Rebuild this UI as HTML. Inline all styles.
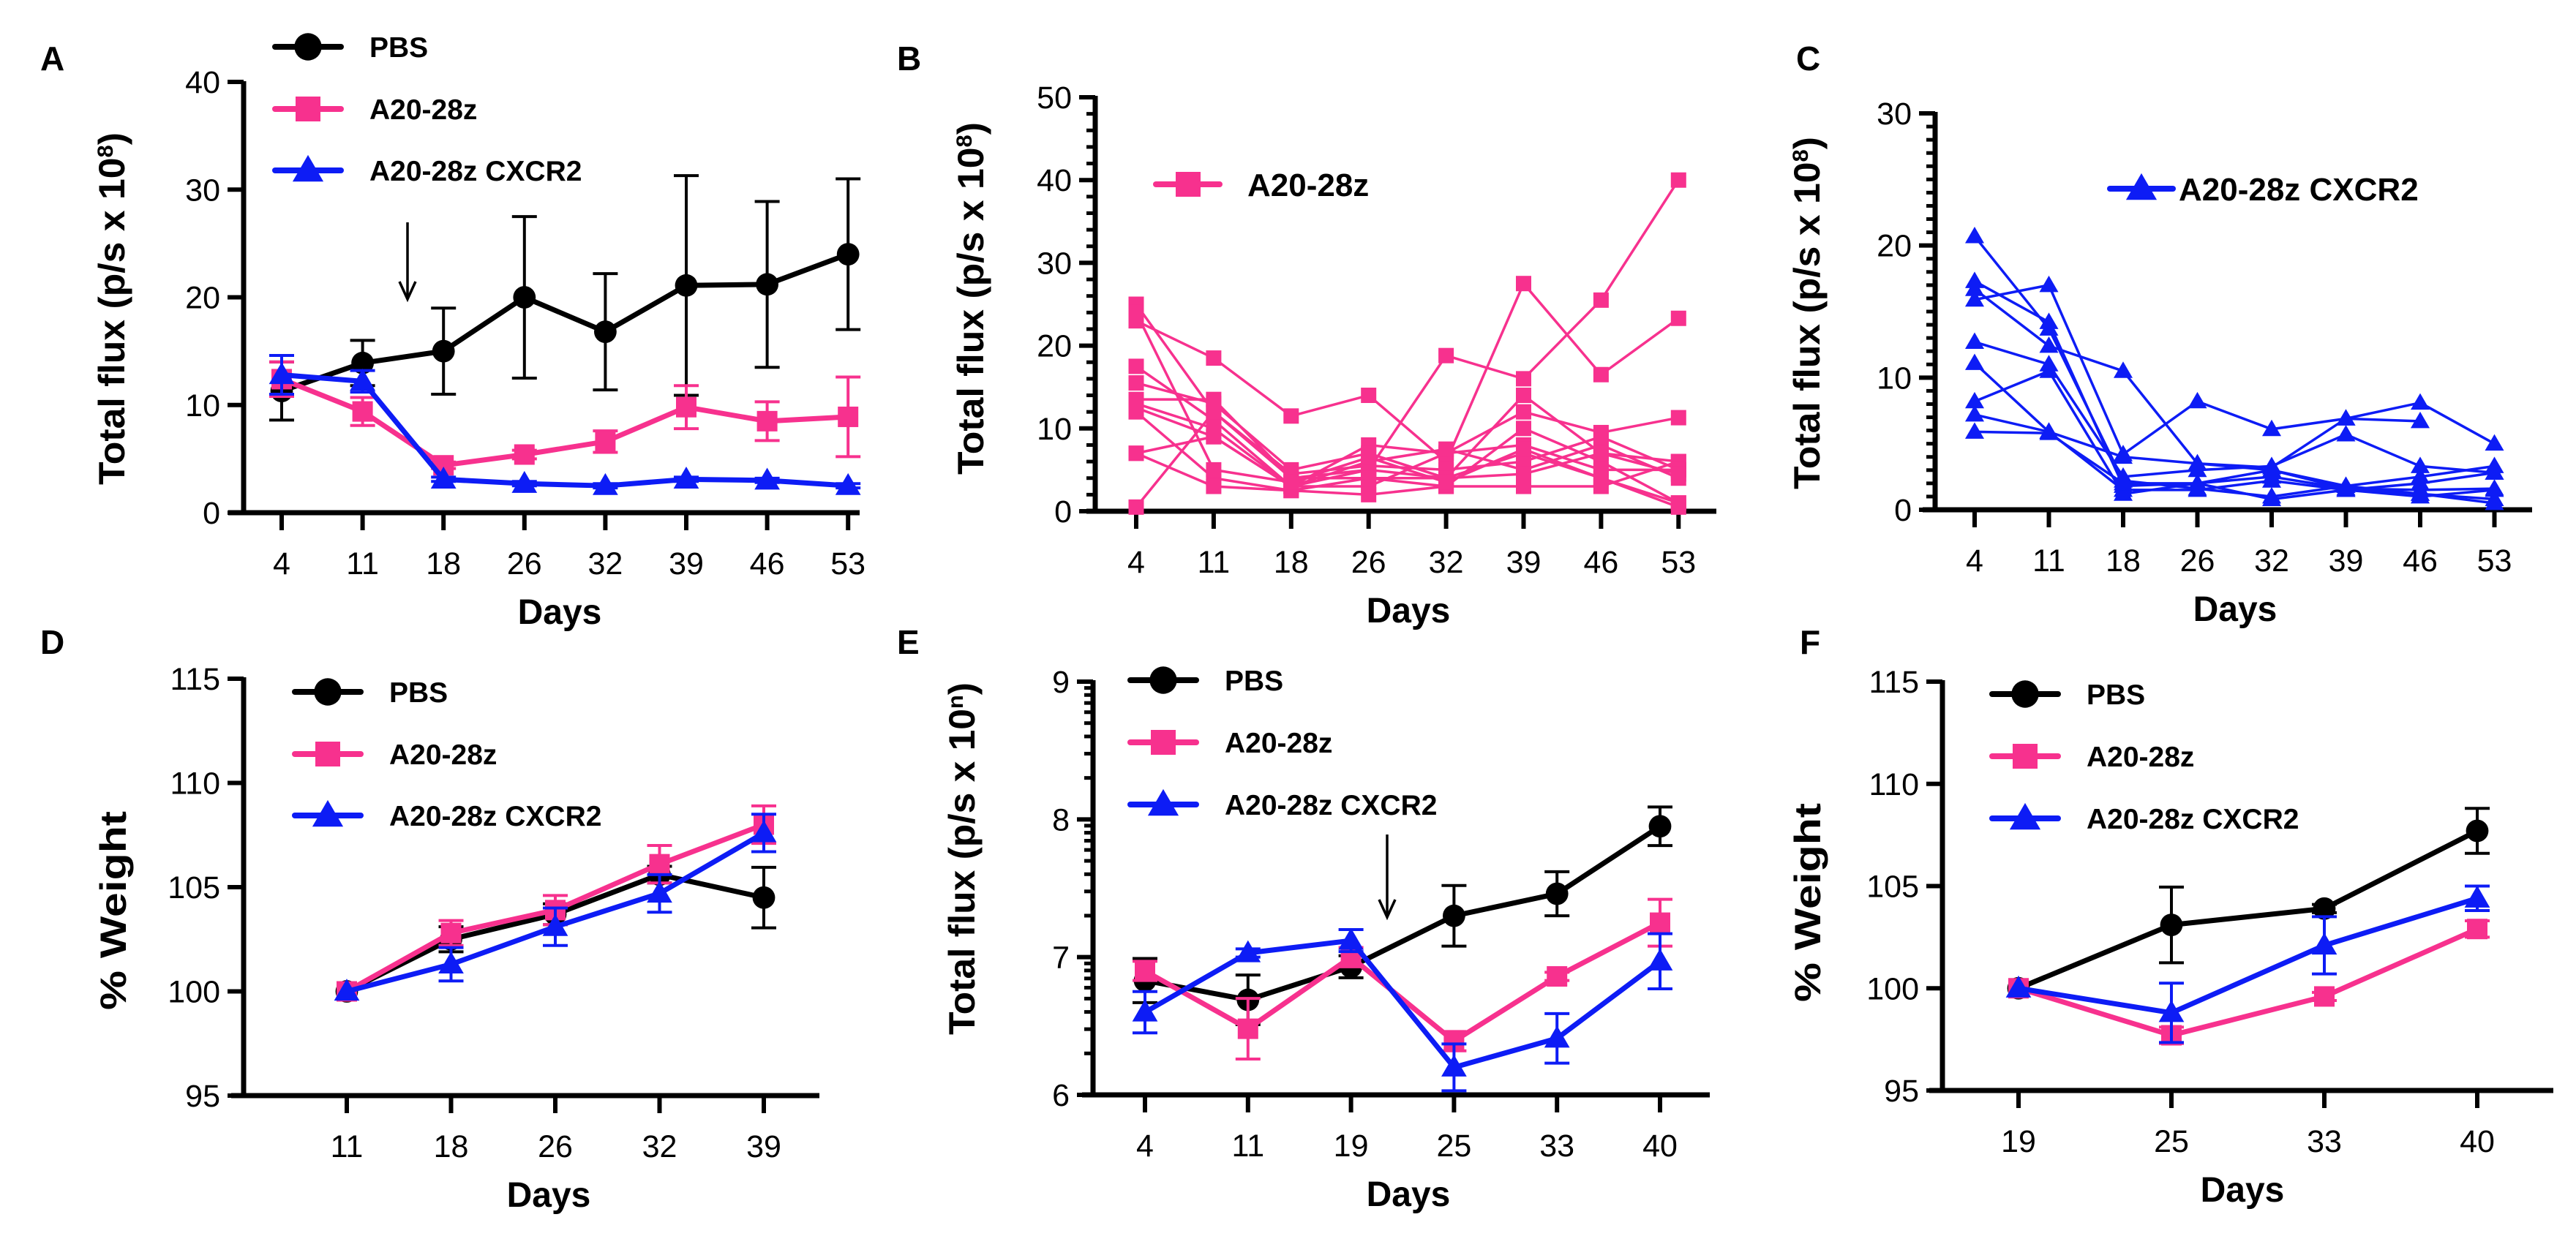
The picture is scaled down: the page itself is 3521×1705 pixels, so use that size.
<!DOCTYPE html>
<html><head><meta charset="utf-8">
<style>
html,body{margin:0;padding:0;background:#fff;}
svg{display:block;}
text{font-family:"Liberation Sans",sans-serif;}
</style></head>
<body>
<svg id="fig" xmlns="http://www.w3.org/2000/svg" width="3521" height="1705" viewBox="0 0 3521 1705"></svg>
<script>
// ---------- DATA ----------
const daysA = [4, 11, 18, 26, 32, 39, 46, 53];
const aPBS = [11.3, 13.9, 15.0, 20.0, 16.8, 21.1, 21.2, 24.0];
const aPBSerr = [2.7, 2.1, 4.0, 7.5, 5.4, 10.2, 7.7, 7.0];
const aCAR = [12.4, 9.4, 4.4, 5.4, 6.6, 9.8, 8.5, 8.9];
const aCARerr = [1.6, 1.3, 0.3, 0.4, 1.0, 2.0, 1.8, 3.7];
const aCX = [12.8, 12.2, 3.1, 2.7, 2.5, 3.1, 3.0, 2.5];
const aCXerr = [1.8, 1.0, 0.2, 0.2, 0.2, 0.2, 0.2, 0.2];

const bLines = [
  [23, 18.5, 11.5, 14, 6, 27.5, 16.5, 23.3],
  [25, 12, 4, 5, 18.8, 16, 25.5, 40],
  [17.5, 11, 3, 8, 7, 12, 9.5, 11.3],
  [15.5, 13, 5, 7, 4, 14, 7, 6],
  [13.5, 13.5, 4, 4, 3, 10, 6, 1],
  [13, 10, 3, 3, 7, 8, 5, 5],
  [12.5, 9, 3, 6, 7.5, 5, 8, 4],
  [12, 4, 2.5, 2, 3, 3, 3, 6],
  [7, 9, 3, 5, 4, 7, 4, 0.5],
  [0.5, 12, 4.5, 5.5, 5, 6, 9, 5],
  [7, 3, 2.5, 4, 4, 4.5, 7, 4.5],
  [24, 5, 3.5, 6.5, 3.5, 7.5, 4, 1]
];
const cLines = [
  [20.7, 13.7, 2.2, 1.6, 1.0, 1.8, 1.2, 0.5],
  [17.3, 14.2, 1.8, 2.0, 3.0, 1.8, 2.5, 3.3],
  [16.7, 12.4, 10.5, 3.5, 3.2, 6.9, 6.7, null],
  [15.9, 17.0, 4.2, 8.2, 6.1, 6.9, 8.1, 5.0],
  [12.7, 11.0, 2.5, 3.0, 3.3, 5.7, 3.3, 2.8],
  [11.1, 5.9, 1.5, 1.5, 2.2, 1.5, 1.0, 1.5],
  [8.2, 10.5, 1.2, 2.0, 0.8, 1.5, 2.0, 2.8],
  [7.2, 5.9, 4.0, 3.5, 3.0, 1.6, 1.5, 1.6],
  [5.9, 5.8, 2.0, 2.0, 2.5, 1.6, 1.2, 0.8]
];

const daysD = [11, 18, 26, 32, 39];
const dPBS = [100, 102.5, 103.7, 105.6, 104.5];
const dPBSerr = [0, 0.6, 0.5, 0.4, 1.45];
const dCAR = [100, 102.8, 103.9, 106.1, 108.0];
const dCARerr = [0, 0.6, 0.7, 0.9, 0.9];
const dCX = [100, 101.3, 103.1, 104.7, 107.6];
const dCXerr = [0, 0.8, 0.9, 0.9, 0.9];

const daysE = [4, 11, 19, 25, 33, 40];
const ePBS = [6.83, 6.69, 6.93, 7.30, 7.46, 7.95];
const ePBSerr = [0.16, 0.18, 0.08, 0.22, 0.16, 0.14];
const eCAR = [6.9, 6.48, 7.0, 6.39, 6.86, 7.25];
const eCARerr = [0.07, 0.22, 0.07, 0.07, 0.03, 0.17];
const eCX = [6.6, 7.03, 7.12, 6.2, 6.41, 6.97];
const eCXerr = [0.15, 0.03, 0.08, 0.17, 0.18, 0.2];

const daysF = [19, 25, 33, 40];
const fPBS = [100, 103.1, 103.9, 107.7];
const fPBSerr = [0, 1.85, 0.2, 1.1];
const fCAR = [100, 97.7, 99.6, 102.9];
const fCARerr = [0, 0.4, 0.2, 0.4];
const fCX = [100, 98.8, 102.1, 104.4];
const fCXerr = [0, 1.45, 1.4, 0.6];

const ticksFlux40 = [0, 10, 20, 30, 40];
const ticksFlux50 = [0, 10, 20, 30, 40, 50];
const ticksFlux30 = [0, 10, 20, 30];
const ticksWeight = [95, 100, 105, 110, 115];
const ticksLog = [6, 7, 8, 9];

// ---------- DRAWING ----------
const NS = "http://www.w3.org/2000/svg";
const svg = document.getElementById("fig");
const BLACK = "#000", PINK = "#f7318e", BLUE = "#0d1cf5";
function el(tag, attrs, parent) {
  const e = document.createElementNS(NS, tag);
  for (const k in attrs) e.setAttribute(k, attrs[k]);
  (parent || svg).appendChild(e);
  return e;
}
function txt(parent, x, y, s, size, weight, anchor, extra) {
  const t = el("text", Object.assign({x: x, y: y, "font-size": size, "font-weight": weight, "text-anchor": anchor, fill: "#000"}, extra || {}), parent);
  t.textContent = s;
  return t;
}
function marker(g, type, x, y, color, s) {
  let m;
  if (type === "circle") m = el("circle", {cx: x, cy: y, r: s * 0.55, fill: color}, g);
  else if (type === "square") m = el("rect", {x: x - s / 2, y: y - s / 2, width: s, height: s, fill: color}, g);
  else m = el("polygon", {points: (x) + "," + (y - s * 0.62) + " " + (x - s * 0.62) + "," + (y + s * 0.45) + " " + (x + s * 0.62) + "," + (y + s * 0.45), fill: color}, g);
  return m;
}

function panel(cfg) {
  const g = el("g", {});
  
  
  const xs = cfg.xs, ys = cfg.ys;
  const ax = el("g", {}, g);
  
  
  el("line", {x1: cfg.axX, y1: cfg.axTop, x2: cfg.axX, y2: cfg.axBot, stroke: "#000", "stroke-width": 7}, ax);
  el("line", {x1: cfg.xLineStart, y1: cfg.axBot, x2: cfg.xLineEnd, y2: cfg.axBot, stroke: "#000", "stroke-width": 7}, ax);
  cfg.yTicks.forEach(v => {
    const y = ys(v);
    el("line", {x1: cfg.axX - 22, y1: y, x2: cfg.axX, y2: y, stroke: "#000", "stroke-width": 6}, ax);
    const lab = txt(ax, cfg.axX - 32, y + 15, String(v), 43, "normal", "end");
    
    
  });
  (cfg.minor || []).forEach(v => {
    el("line", {x1: cfg.axX - 12, y1: ys(v), x2: cfg.axX, y2: ys(v), stroke: "#000", "stroke-width": 5}, ax);
  });
  cfg.days.forEach((d, i) => {
    const x = xs(i);
    el("line", {x1: x, y1: cfg.axBot, x2: x, y2: cfg.axBot + 24, stroke: "#000", "stroke-width": 6}, ax);
    const lab = txt(ax, x, cfg.axBot + 84, String(d), 43, "normal", "middle");
    
    
  });
  const xt = txt(g, cfg.daysX, cfg.axBot + 152, "Days", 48, "bold", "middle");
  
  
  const yt = el("text", {x: 0, y: 0, "font-size": 50, "font-weight": "bold", "text-anchor": "middle", fill: "#000", transform: "translate(" + cfg.ytX + "," + cfg.ytY + ") rotate(-90)", textLength: cfg.ytLen, lengthAdjust: "spacingAndGlyphs"}, g);
  
  
  if (cfg.ytSup) {
    yt.appendChild(document.createTextNode(cfg.ytText));
    const sp = el("tspan", {"font-size": 30, dy: -16}, yt); sp.textContent = cfg.ytSup;
    const sp2 = el("tspan", {dy: 16}, yt); sp2.textContent = ")";
  } else yt.textContent = cfg.ytText;
  const pl = txt(g, cfg.letterX, cfg.letterY, cfg.letter, 46, "bold", "start");
  
  
  return g;
}

function meanSeries(g, cfg, vals, errs, color, type, name) {
  const s = el("g", {}, g);
  
  
  vals.forEach((v, i) => {
    if (!errs[i]) return;
    const x = cfg.xs(i), y1 = cfg.ys(v + errs[i]), y2 = cfg.ys(v - errs[i]);
    el("line", {x1: x, y1: y1, x2: x, y2: y2, stroke: color, "stroke-width": 4}, s);
    el("line", {x1: x - 17, y1: y1, x2: x + 17, y2: y1, stroke: color, "stroke-width": 4}, s);
    el("line", {x1: x - 17, y1: y2, x2: x + 17, y2: y2, stroke: color, "stroke-width": 4}, s);
  });
  const pts = vals.map((v, i) => cfg.xs(i) + "," + cfg.ys(v)).join(" ");
  el("polyline", {points: pts, fill: "none", stroke: color, "stroke-width": 7, "stroke-linejoin": "round"}, s);
  vals.forEach((v, i) => {
    const m = marker(s, type, cfg.xs(i), cfg.ys(v), color, 28);
    
    
  });
}

function indivSeries(g, cfg, lines, color, type, name) {
  const s = el("g", {}, g);
  
  
  lines.forEach(L => {
    const pts = [];
    L.forEach((v, i) => { if (v !== null) pts.push(cfg.xs(i) + "," + cfg.ys(v)); });
    const pl = el("polyline", {points: pts.join(" "), fill: "none", stroke: color, "stroke-width": 3.5}, s);
    
    
  });
  lines.forEach(L => L.forEach((v, i) => {
    if (v === null) return;
    const m = marker(s, type, cfg.xs(i), cfg.ys(v), color, 21);
    
    
  }));
}

function legend(g, x, ys, labels, colors, types) {
  const lg = el("g", {}, g);
  
  
  labels.forEach((lab, i) => {
    const e = el("g", {}, lg);
    
    
    el("line", {x1: x - 45, y1: ys[i], x2: x + 45, y2: ys[i], stroke: colors[i], "stroke-width": 8, "stroke-linecap": "round"}, e);
    marker(e, types[i], x, ys[i], colors[i], 34);
    txt(e, x + 84, ys[i] + 14, lab, 39, "bold", "start");
  });
}

function arrow(g, x, y1, y2) {
  const a = el("g", {}, g);
  
  
  el("line", {x1: x, y1: y1, x2: x, y2: y2, stroke: "#000", "stroke-width": 3.5}, a);
  el("polyline", {points: (x - 11) + "," + (y2 - 24) + " " + x + "," + y2 + " " + (x + 11) + "," + (y2 - 24), fill: "none", stroke: "#000", "stroke-width": 3.5}, a);
}

function linX(x0, step) { return i => x0 + i * step; }
function linY(v0, y0, v1, y1) { return v => y0 + (v - v0) * (y1 - y0) / (v1 - v0); }
function range(a, b, s) { const r = []; for (let v = a; v <= b + 1e-9; v += s) r.push(+v.toFixed(4)); return r; }

const LEG = ["PBS", "A20-28z", "A20-28z CXCR2"], COLS = [BLACK, PINK, BLUE], TYPES = ["circle", "square", "triangle"];

// Panel A
const cA = {name: "panel-a-flux-mean", days: daysA, xs: linX(385, 110.6), ys: linY(0, 701, 40, 112), axX: 333, axTop: 111, axBot: 701,
  xLineStart: 312, xLineEnd: 1175, yTicks: ticksFlux40, daysX: 765, ytX: 170, ytY: 422, ytLen: 482, ytText: "Total flux (p/s x 10", ytSup: "8",
  letter: "A", letterX: 55, letterY: 96};
let g = panel(cA);
meanSeries(g, cA, aPBS, aPBSerr, BLACK, "circle", "series-pbs");
meanSeries(g, cA, aCAR, aCARerr, PINK, "square", "series-a20-28z");
meanSeries(g, cA, aCX, aCXerr, BLUE, "triangle", "series-a20-28z-cxcr2");
legend(g, 421, [64, 149, 233], LEG, COLS, TYPES);
arrow(g, 557, 304, 409);

// Panel B
const cB = {name: "panel-b-flux-a20-28z", days: daysA, xs: linX(1553, 105.9), ys: linY(0, 699, 50, 133), axX: 1497, axTop: 131, axBot: 699,
  xLineStart: 1485, xLineEnd: 2346, yTicks: ticksFlux50, minor: range(0, 50, 2), daysX: 1925, ytX: 1344, ytY: 408, ytLen: 482, ytText: "Total flux (p/s x 10", ytSup: "8",
  letter: "B", letterX: 1226, letterY: 96};
g = panel(cB);
indivSeries(g, cB, bLines, PINK, "square", "series-a20-28z-individual");
(function () {
  const e = el("g", {}, g);
  
  
  el("line", {x1: 1580, y1: 252, x2: 1667, y2: 252, stroke: PINK, "stroke-width": 8, "stroke-linecap": "round"}, e);
  marker(e, "square", 1624, 252, PINK, 34);
  txt(e, 1705, 268, "A20-28z", 44, "bold", "start");
})();

// Panel C
const cC = {name: "panel-c-flux-cxcr2", days: daysA, xs: linX(2699, 101.5), ys: linY(0, 697, 30, 155), axX: 2645, axTop: 153, axBot: 697,
  xLineStart: 2628, xLineEnd: 3461, yTicks: ticksFlux30, minor: range(0, 30, 1), daysX: 3055, ytX: 2487, ytY: 428, ytLen: 482, ytText: "Total flux (p/s x 10", ytSup: "8",
  letter: "C", letterX: 2455, letterY: 96};
g = panel(cC);
indivSeries(g, cC, cLines, BLUE, "triangle", "series-a20-28z-cxcr2-individual");
(function () {
  const e = el("g", {}, g);
  
  
  el("line", {x1: 2884, y1: 258, x2: 2970, y2: 258, stroke: BLUE, "stroke-width": 8, "stroke-linecap": "round"}, e);
  marker(e, "triangle", 2927, 258, BLUE, 34);
  txt(e, 2978, 274, "A20-28z CXCR2", 44, "bold", "start");
})();

// Panel D
const cD = {name: "panel-d-weight", days: daysD, xs: linX(474, 142.5), ys: linY(95, 1498, 115, 928), axX: 333, axTop: 926, axBot: 1498,
  xLineStart: 316, xLineEnd: 1120, yTicks: ticksWeight, daysX: 750, ytX: 172, ytY: 1245, ytLen: 272, ytText: "% Weight",
  letter: "D", letterX: 55, letterY: 894};
g = panel(cD);
meanSeries(g, cD, dPBS, dPBSerr, BLACK, "circle", "series-pbs");
meanSeries(g, cD, dCAR, dCARerr, PINK, "square", "series-a20-28z");
meanSeries(g, cD, dCX, dCXerr, BLUE, "triangle", "series-a20-28z-cxcr2");
legend(g, 448, [946, 1031, 1115], LEG, COLS, TYPES);

// Panel E (log scale)
const eMinor = [];
ticksLog.slice(0, 3).forEach(d => { for (let k = 2; k <= 9; k++) eMinor.push(d + Math.log10(k)); });
const cE = {name: "panel-e-flux-log", days: daysE, xs: linX(1565, 140.8), ys: linY(6, 1497, 9, 932), axX: 1494, axTop: 930, axBot: 1497,
  xLineStart: 1479, xLineEnd: 2337, yTicks: ticksLog, minor: eMinor, daysX: 1925, ytX: 1332, ytY: 1174, ytLen: 482, ytText: "Total flux (p/s x 10", ytSup: "n",
  letter: "E", letterX: 1226, letterY: 894};
g = panel(cE);
meanSeries(g, cE, ePBS, ePBSerr, BLACK, "circle", "series-pbs");
meanSeries(g, cE, eCAR, eCARerr, PINK, "square", "series-a20-28z");
meanSeries(g, cE, eCX, eCXerr, BLUE, "triangle", "series-a20-28z-cxcr2");
legend(g, 1590, [930, 1015, 1100], LEG, COLS, TYPES);
arrow(g, 1896, 1141, 1254);

// Panel F
const cF = {name: "panel-f-weight", days: daysF, xs: linX(2759, 209), ys: linY(95, 1491, 115, 932), axX: 2655, axTop: 930, axBot: 1491,
  xLineStart: 2637, xLineEnd: 3490, yTicks: ticksWeight, daysX: 3065, ytX: 2488, ytY: 1234, ytLen: 272, ytText: "% Weight",
  letter: "F", letterX: 2460, letterY: 894};
g = panel(cF);
meanSeries(g, cF, fPBS, fPBSerr, BLACK, "circle", "series-pbs");
meanSeries(g, cF, fCAR, fCARerr, PINK, "square", "series-a20-28z");
meanSeries(g, cF, fCX, fCXerr, BLUE, "triangle", "series-a20-28z-cxcr2");
legend(g, 2768, [949, 1034, 1119], LEG, COLS, TYPES);
</script>
</body></html>
